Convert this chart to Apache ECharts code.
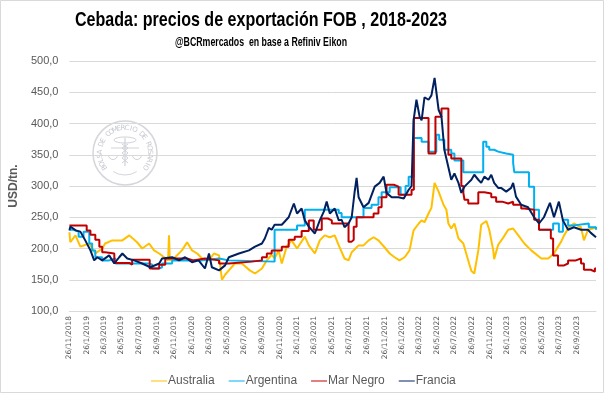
<!DOCTYPE html>
<html>
<head>
<meta charset="utf-8">
<script src="https://cdn.jsdelivr.net/npm/echarts@6/dist/echarts.min.js"></script>
<style>
html,body{margin:0;padding:0;background:#fff;}
#c{width:604px;height:393px;}
</style>
</head>
<body>
<div id="c"></div>
<script>
const titleText = 'Cebada: precios de exportación FOB , 2018-2023';
const subtitleText = '@BCRmercados  en base a Refiniv Eikon';
const yAxisName = 'USD/tn.';
const seriesNames = ['Australia', 'Argentina', 'Mar Negro', 'Francia'];
const seriesColors = ['#FFC000', '#00B0F0', '#C00000', '#002060'];
const tickLabels = ['26/11/2018','26/1/2019','26/3/2019','26/5/2019','26/7/2019','26/9/2019','26/11/2019',
  '26/1/2020','26/3/2020','26/5/2020','26/7/2020','26/9/2020','26/11/2020',
  '26/1/2021','26/3/2021','26/5/2021','26/7/2021','26/9/2021','26/11/2021',
  '26/1/2022','26/3/2022','26/5/2022','26/7/2022','26/9/2022','26/11/2022',
  '26/1/2023','26/3/2023','26/5/2023','26/7/2023','26/9/2023'];
const xMin = '2018-11-26';
const xMax = '2023-11-30';

const australia = [
 ['2018-11-26',226],['2018-11-29',210],['2018-12-17',221],['2019-01-03',203],['2019-02-03',208],
 ['2019-02-24',192],['2019-03-20',200],['2019-03-30',208],['2019-04-24',213],['2019-05-29',213],
 ['2019-06-22',221],['2019-07-19',210],['2019-08-06',200],['2019-08-30',208],['2019-09-16',197],
 ['2019-10-04',192],['2019-10-21',186],['2019-11-04',181],['2019-11-07',221],['2019-11-10',181],
 ['2019-11-28',186],['2019-12-22',197],['2020-01-09',210],['2020-01-26',197],['2020-02-13',192],
 ['2020-03-01',184],['2020-03-25',181],['2020-04-11',192],['2020-04-29',189],['2020-05-09',150],
 ['2020-05-20',158],['2020-06-02',165],['2020-06-23',176],['2020-07-17',176],['2020-08-14',165],
 ['2020-09-01',160],['2020-09-25',168],['2020-10-12',181],['2020-10-29',190],['2020-11-08',184],
 ['2020-11-22',197],['2020-12-03',176],['2020-12-20',203],['2021-01-06',213],['2021-01-25',200],
 ['2021-02-21',219],['2021-03-07',205],['2021-03-28',192],['2021-04-14',213],['2021-05-01',221],
 ['2021-05-19',218],['2021-06-05',221],['2021-06-19',205],['2021-07-09',184],['2021-07-23',181],
 ['2021-08-03',194],['2021-08-27',205],['2021-09-13',205],['2021-10-01',213],['2021-10-18',218],
 ['2021-11-04',213],['2021-11-25',202],['2021-12-13',192],['2021-12-30',186],['2022-01-16',181],
 ['2022-02-03',186],['2022-02-20',197],['2022-03-06',229],['2022-03-24',240],['2022-04-03',245],
 ['2022-04-13',242],['2022-04-27',256],['2022-05-07',265],['2022-05-18',305],['2022-06-01',291],
 ['2022-06-18',270],['2022-06-28',262],['2022-07-05',240],['2022-07-15',232],['2022-07-26',240],
 ['2022-08-09',216],['2022-08-26',208],['2022-09-05',192],['2022-09-15',176],['2022-09-23',164],
 ['2022-10-03',160],['2022-10-17',197],['2022-10-27',238],['2022-11-14',244],['2022-11-24',230],
 ['2022-12-08',197],['2022-12-11',183],['2022-12-25',206],['2023-01-11',217],['2023-01-29',230],
 ['2023-02-15',232],['2023-03-05',221],['2023-03-26',208],['2023-04-19',197],['2023-05-24',184],
 ['2023-06-17',184],['2023-07-07',192],['2023-07-21',203],['2023-08-01',211],['2023-08-11',221],
 ['2023-08-28',234],['2023-09-14',240],['2023-10-09',234],['2023-10-19',213],['2023-11-02',230],
 ['2023-11-19',232],['2023-11-30',234]
];

const argentina = [
 ['2018-11-26',230],['2018-12-10',227],['2018-12-28',219],['2019-01-14',227],['2019-02-03',208],
 ['2019-02-13',197],['2019-02-24',186],['2019-03-20',181],['2019-04-13',184],['2019-05-05',176],
 ['2019-08-30',174],['2019-09-10',168],['2019-10-04',170],['2019-10-14',176],['2019-11-18',181],
 ['2020-03-01',184],['2020-04-29',181],['2020-06-02',179],['2020-11-08',230],['2021-01-25',237],
 ['2021-02-21',262],['2021-06-19',257],['2021-06-29',250],['2021-09-13',265],['2021-10-11',270],
 ['2021-11-04',282],['2021-11-15',290],['2021-12-13',298],['2022-01-20',286],['2022-02-06',300],
 ['2022-02-17',315],['2022-03-06',377],['2022-04-03',371],['2022-04-27',355],['2022-05-24',382],
 ['2022-06-03',374],['2022-06-21',358],['2022-07-15',352],['2022-07-26',341],['2022-08-26',322],
 ['2022-11-03',371],['2022-11-14',363],['2022-11-24',358],['2022-12-11',355],['2022-12-25',352],
 ['2023-01-22',350],['2023-02-15',337],['2023-02-19',322],['2023-04-11',299],['2023-04-29',262],
 ['2023-05-16',230],['2023-07-04',240],['2023-07-24',227],['2023-08-07',246],['2023-08-25',237],
 ['2023-09-14',240],['2023-11-05',234],['2023-11-30',230]
];

const marNegro = [
 ['2018-11-26',237],['2019-01-25',229],['2019-02-07',222],['2019-02-24',214],['2019-03-10',203],
 ['2019-03-20',194],['2019-03-30',192],['2019-05-01',177],['2019-06-22',174],['2019-07-02',182],
 ['2019-09-01',168],['2019-10-04',174],['2019-10-25',184],['2020-01-09',181],['2020-01-30',184],
 ['2020-03-11',181],['2020-04-29',176],['2020-06-02',179],['2020-08-21',181],['2020-09-25',186],
 ['2020-10-12',192],['2020-10-29',197],['2020-12-03',203],['2020-12-27',214],['2021-01-17',219],
 ['2021-02-10',228],['2021-03-07',245],['2021-03-24',230],['2021-04-21',248],['2021-05-12',245],
 ['2021-05-26',240],['2021-07-23',211],['2021-08-03',214],['2021-08-10',235],['2021-08-20',250],
 ['2021-10-18',256],['2021-11-04',266],['2021-11-15',282],['2021-12-02',302],['2021-12-27',299],
 ['2022-01-13',286],['2022-02-27',294],['2022-03-07',409],['2022-04-27',352],['2022-05-21',411],
 ['2022-06-11',424],['2022-07-05',350],['2022-07-15',344],['2022-08-19',300],['2022-08-26',289],
 ['2022-08-30',278],['2022-09-12',272],['2022-10-17',290],['2022-11-07',288],['2022-12-01',282],
 ['2022-12-18',275],['2023-01-08',272],['2023-01-29',275],['2023-02-15',270],['2023-03-15',264],
 ['2023-03-26',262],['2023-04-29',246],['2023-05-16',230],['2023-06-26',216],['2023-07-04',189],
 ['2023-07-21',173],['2023-08-11',176],['2023-08-25',181],['2023-09-21',184],['2023-10-09',176],
 ['2023-10-19',166],['2023-11-12',163],['2023-11-26',168],['2023-11-30',168]
];

const francia = [
 ['2018-11-26',229],['2018-11-29',235],['2018-12-18',229],['2019-01-03',227],['2019-01-20',213],
 ['2019-02-07',197],['2019-02-20',181],['2019-03-03',186],['2019-03-20',181],['2019-04-13',189],
 ['2019-05-01',176],['2019-05-18',186],['2019-05-29',192],['2019-06-15',184],['2019-07-09',181],
 ['2019-08-06',176],['2019-09-03',170],['2019-10-04',176],['2019-10-14',184],['2019-11-18',186],
 ['2019-12-12',181],['2020-01-02',186],['2020-01-26',178],['2020-02-18',181],['2020-03-11',168],
 ['2020-03-25',192],['2020-04-04',170],['2020-04-29',165],['2020-05-20',173],['2020-06-02',186],
 ['2020-07-07',192],['2020-08-11',197],['2020-09-01',203],['2020-09-25',208],['2020-10-05',216],
 ['2020-10-19',233],['2020-10-29',230],['2020-11-08',238],['2020-12-03',238],['2020-12-27',250],
 ['2021-01-14',272],['2021-01-25',256],['2021-02-10',264],['2021-02-21',245],['2021-03-07',235],
 ['2021-03-28',224],['2021-04-14',245],['2021-04-28',259],['2021-05-08',275],['2021-05-19',256],
 ['2021-06-05',264],['2021-06-19',245],['2021-06-29',246],['2021-07-09',234],['2021-07-23',240],
 ['2021-08-03',250],['2021-08-13',290],['2021-08-20',313],['2021-08-27',282],['2021-09-13',266],
 ['2021-10-01',273],['2021-10-22',299],['2021-11-08',305],['2021-11-22',315],['2021-12-02',289],
 ['2021-12-20',282],['2022-01-13',282],['2022-01-31',280],['2022-02-17',294],['2022-02-27',300],
 ['2022-03-06',405],['2022-03-16',438],['2022-03-27',411],['2022-04-03',405],['2022-04-13',442],
 ['2022-04-27',438],['2022-05-07',445],['2022-05-18',473],['2022-06-01',422],['2022-06-11',411],
 ['2022-06-21',358],['2022-07-05',330],['2022-07-15',310],['2022-07-26',320],['2022-08-09',305],
 ['2022-08-19',289],['2022-08-30',299],['2022-09-12',305],['2022-09-23',310],['2022-10-03',318],
 ['2022-10-17',310],['2022-10-27',305],['2022-11-07',315],['2022-11-21',310],['2022-12-01',318],
 ['2022-12-11',305],['2022-12-25',297],['2023-01-04',297],['2023-01-22',291],['2023-02-08',297],
 ['2023-02-15',305],['2023-02-25',283],['2023-03-15',270],['2023-04-08',266],['2023-04-29',250],
 ['2023-05-16',240],['2023-06-02',250],['2023-06-23',273],['2023-07-07',250],['2023-07-24',275],
 ['2023-08-07',245],['2023-08-25',230],['2023-09-14',234],['2023-10-09',230],['2023-11-02',230],
 ['2023-11-12',225],['2023-11-30',218]
];

function parseISO(s) {
  const p = s.split('-').map(Number);
  return new Date(p[0], p[1] - 1, p[2]).getTime();
}
function parseDMY(s) {
  const p = s.split('/').map(Number);
  return new Date(p[2], p[1] - 1, p[0]).getTime();
}
const tickValues = tickLabels.map(parseDMY);
function fmtDate(v) {
  const d = new Date(v);
  return d.getDate() + '/' + (d.getMonth() + 1) + '/' + d.getFullYear();
}
function toXY(arr) { return arr.map(function(p){ return [parseISO(p[0]), p[1]]; }); }

const mctx = document.createElement('canvas').getContext('2d');
function squeeze(text, font, targetWidth) {
  mctx.font = font;
  const w = mctx.measureText(text).width;
  return w > 0 ? targetWidth / w : 1;
}
const titleFont = 'bold 21px "Liberation Sans", Arial, sans-serif';
const subFont = 'bold 13px "Liberation Sans", Arial, sans-serif';

// watermark seal
const sealText = 'BOLSA DE COMERCIO DE ROSARIO';
const sealCx = 125, sealCy = 153, sealR = 25;
const sealEls = [];
sealEls.push({type:'circle', shape:{cx:sealCx, cy:sealCy, r:32}, style:{fill:'none', stroke:'#d4d6dc', lineWidth:1.5}, silent:true});
sealEls.push({type:'arc', shape:{cx:sealCx, cy:sealCy, r:22, startAngle:Math.PI*0.32, endAngle:Math.PI*0.68}, style:{fill:'none', stroke:'#d4d6dc', lineWidth:1}, silent:true});
(function(){
  const n = sealText.length;
  const start = 215 * Math.PI / 180, end = -35 * Math.PI / 180;
  for (let i = 0; i < n; i++) {
    const th = start + (end - start) * i / (n - 1);
    sealEls.push({
      type:'text', silent:true,
      x: sealCx + sealR * Math.cos(th), y: sealCy - sealR * Math.sin(th),
      rotation: th - Math.PI / 2,
      style:{text: sealText[i], fill:'#c6c9d1', font:'7px "DejaVu Sans"', align:'center', verticalAlign:'middle'}
    });
  }
  const st = {stroke:'#cfd2d9', lineWidth:1, fill:'none'};
  sealEls.push({type:'line', shape:{x1:sealCx, y1:sealCy-15, x2:sealCx, y2:sealCy+13}, style:{stroke:'#cfd2d9', lineWidth:1.2}, silent:true});
  sealEls.push({type:'line', shape:{x1:sealCx-14, y1:sealCy-5, x2:sealCx+14, y2:sealCy-5}, style:st, silent:true});
  sealEls.push({type:'arc', shape:{cx:sealCx-12, cy:sealCy+2, r:4.5, startAngle:0, endAngle:Math.PI}, style:st, silent:true});
  sealEls.push({type:'arc', shape:{cx:sealCx+12, cy:sealCy+2, r:4.5, startAngle:0, endAngle:Math.PI}, style:st, silent:true});
  sealEls.push({type:'ellipse', shape:{cx:sealCx, cy:sealCy-13, rx:11, ry:3}, style:st, silent:true});
  sealEls.push({type:'polyline', shape:{points:[[sealCx-3,sealCy-9],[sealCx+3,sealCy-5],[sealCx-3,sealCy],[sealCx+3,sealCy+5],[sealCx-3,sealCy+10]]}, style:st, silent:true});
  sealEls.push({type:'polyline', shape:{points:[[sealCx+3,sealCy-9],[sealCx-3,sealCy-5],[sealCx+3,sealCy],[sealCx-3,sealCy+5],[sealCx+3,sealCy+10]]}, style:st, silent:true});
})();

const chart = echarts.init(document.getElementById('c'), null, {renderer:'canvas'});
const datasets = [australia, argentina, marNegro, francia];
const stepFlags = [false, 'end', 'end', false];

chart.setOption({
  backgroundColor:'#ffffff',
  animation:false,
  graphic:[
    {type:'rect', shape:{x:0.5, y:0.5, width:603, height:392}, style:{fill:'none', stroke:'#d9d9d9', lineWidth:1}, silent:true, z:-1},
    {type:'group', children:sealEls, z:-1},
    {type:'text', x:261, y:20, scaleX:squeeze(titleText, titleFont, 372), silent:true,
     style:{text:titleText, font:titleFont, fill:'#000', align:'center', verticalAlign:'middle'}},
    {type:'text', x:261, y:42, scaleX:squeeze(subtitleText, subFont, 172), silent:true,
     style:{text:subtitleText, font:subFont, fill:'#000', align:'center', verticalAlign:'middle'}}
  ],
  legend:{
    data:seriesNames, left:146, top:370, itemWidth:16, itemHeight:8, itemGap:14,
    icon:'path://M0,3.5 L16,3.5 L16,4.5 L0,4.5 Z',
    textStyle:{fontFamily:'"Liberation Sans","Open Sans",sans-serif', fontSize:12, color:'#595959', padding:[0,0,0,-4]}
  },
  grid:{left:66, right:8, top:61, bottom:82, containLabel:false},
  xAxis:{
    type:'value', min:parseISO(xMin), max:parseISO(xMax),
    axisLine:{show:true, lineStyle:{color:'#d9d9d9', width:1}},
    axisTick:{show:false},
    splitLine:{show:false},
    axisLabel:{
      customValues:tickValues, rotate:90, margin:5,
      formatter:function(v){ return fmtDate(v); },
      fontFamily:'"DejaVu Sans",sans-serif', fontSize:7.5, color:'#595959'
    }
  },
  yAxis:{
    type:'value', min:100, max:500, interval:50,
    name:yAxisName, nameLocation:'middle', nameGap:41, nameRotate:90,
    nameTextStyle:{fontFamily:'"Liberation Sans","Open Sans",sans-serif', fontSize:12, color:'#595959', fontWeight:'bold'},
    axisLine:{show:false}, axisTick:{show:false},
    splitLine:{lineStyle:{color:'#d9d9d9', width:1}},
    axisLabel:{margin:11, fontFamily:'"Liberation Sans","Open Sans",sans-serif', fontSize:11, color:'#595959',
      formatter:function(v){ return v.toFixed(1).replace('.', ','); }}
  },
  series: seriesNames.map(function(name, i){
    return {
      name:name, type:'line', data:toXY(datasets[i]), step:stepFlags[i],
      symbol:'none', showSymbol:false,
      lineStyle:{color:seriesColors[i], width:2},
      itemStyle:{color:seriesColors[i]},
      z:2+i
    };
  })
});
</script>
</body>
</html>
